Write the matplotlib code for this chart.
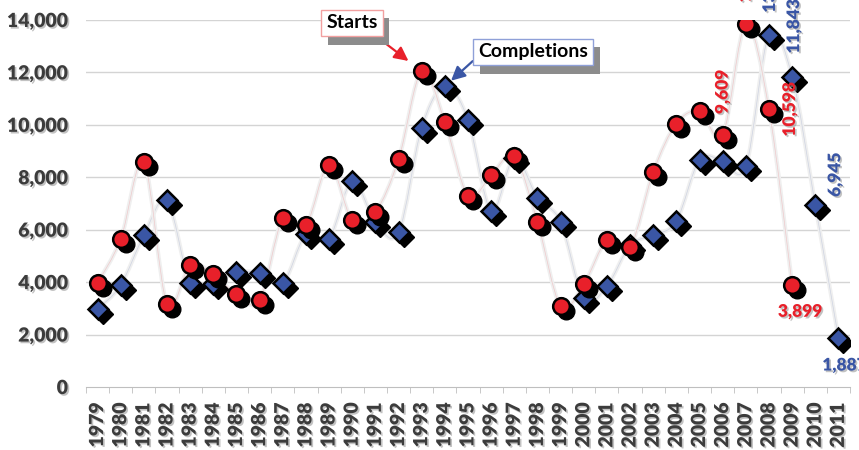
import numpy as np
import matplotlib as mpl
mpl.use('Agg')
import matplotlib.pyplot as plt
import matplotlib.patheffects as pe
import matplotlib.transforms as mtransforms
from matplotlib.path import Path
from matplotlib.patches import PathPatch

years = list(range(1979, 2012))

starts = [3970, 5640, 8570, 3160, 4650, 4300, 3540, 3310, 6430, 6170,
          8480, 6360, 6680, 8680, 12050, 10110, 7290, 8080, 8800, 6300,
          3090, 3920, 5600, 5330, 8200, 10050, 10520, 9609, 13830, 10598,
          3899]

completions = [2970, 3890, 5790, 7120, 3960, 3930, 4380, 4340, 3960, 5830,
               5660, 7860, 6300, 5900, 9890, 11470, 10200, 6720, 8750, 7220,
               6300, 3380, 3850, 5400, 5790, 6330, 8670, 8620, 8420, 13440,
               11843, 6945, 1887]

RED = '#e8202a'
BLUE = '#3a56a5'
GREY_TXT = '#3c3c3c'
FONT = 'Lato'

txt_shadow = [pe.SimplePatchShadow(offset=(1.2, -1.2), shadow_rgbFace='#9a9a9a', alpha=0.6),
              pe.Normal()]


def smooth_path(xs, ys):
    # cubic bezier through each point (catmull-rom style tangents)
    pts = np.column_stack([xs, ys]).astype(float)
    n = len(pts)
    verts = [pts[0]]
    codes = [Path.MOVETO]
    for i in range(n - 1):
        p0 = pts[max(i - 1, 0)]
        p1 = pts[i]
        p2 = pts[i + 1]
        p3 = pts[min(i + 2, n - 1)]
        verts += [p1 + (p2 - p0) / 6.0, p2 - (p3 - p1) / 6.0, p2]
        codes += [Path.CURVE4] * 3
    return Path(verts, codes)


fig = plt.figure(figsize=(8.59, 4.5), dpi=100)
ax = fig.add_axes([86 / 859, 63 / 450, 764 / 859, 367 / 450])

xs_c = np.arange(len(completions))
xs_s = np.arange(len(starts))

ax.set_xlim(-0.5, len(years) - 0.5)
ax.set_ylim(0, 14000)

# gridlines
for v in range(2000, 14001, 2000):
    ax.axhline(v, color='#d4d4d4', lw=1, zorder=0)

# faint smoothed connecting lines
for xs, ys, col in [(xs_c, completions, BLUE), (xs_s, starts, RED)]:
    p = smooth_path(xs, ys)
    ax.add_patch(PathPatch(p, fill=False, edgecolor='#efefef', lw=3, zorder=1))
    ax.add_patch(PathPatch(p, fill=False, edgecolor=col, lw=0.5, alpha=0.18, zorder=1))

shadow_tr = mtransforms.offset_copy(ax.transData, fig=fig, x=5, y=-5, units='dots')

ax.plot(xs_c, completions, 'D', ms=10, color='black', mec='black', transform=shadow_tr, zorder=3)
ax.plot(xs_c, completions, 'D', ms=10, color=BLUE, mec='black', mew=1.8, zorder=4)
ax.plot(xs_s, starts, 'o', ms=12, color='black', mec='black', transform=shadow_tr, zorder=5)
ax.plot(xs_s, starts, 'o', ms=12, color=RED, mec='black', mew=1.8, zorder=6)

# data labels
lab_kw = dict(textcoords='offset pixels', fontsize=12.5, fontweight='heavy',
              family=FONT, annotation_clip=False, zorder=8)


def lab(series, year, color, dx, dy, rot, ha, va):
    i = years.index(year)
    v = series[i]
    t = ax.annotate(f'{v:,}', (i, v), xytext=(dx, dy), color=color,
                    rotation=rot, ha=ha, va=va, **lab_kw)
    t.set_path_effects(txt_shadow)


lab(starts, 2006, RED, 0, 21, 90, 'center', 'bottom')
lab(starts, 2007, RED, 0, 22, 90, 'center', 'bottom')
lab(starts, 2008, RED, 21, 0, 90, 'center', 'center')
lab(starts, 2009, RED, 8, -27, 0, 'center', 'center')
lab(completions, 2008, BLUE, 1, 22, 90, 'center', 'bottom')
lab(completions, 2009, BLUE, 2, 23, 90, 'center', 'bottom')
lab(completions, 2010, BLUE, 20, 8, 90, 'center', 'bottom')
lab(completions, 2011, BLUE, 6, -28, 0, 'center', 'center')

# axes styling
for s in ['top', 'right', 'left']:
    ax.spines[s].set_visible(False)
ax.spines['bottom'].set_color('#bfbfbf')

ax.set_yticks(range(0, 14001, 2000))
ax.set_yticklabels([f'{v:,}' for v in range(0, 14001, 2000)])
ax.tick_params(axis='y', length=0, pad=13, labelsize=14, labelcolor=GREY_TXT)

ax.set_xticks(np.arange(len(years)))
ax.set_xticklabels([str(y) for y in years], rotation=90)
ax.set_xticks(np.arange(len(years) + 1) - 0.5, minor=True)
ax.tick_params(axis='x', which='major', length=0, pad=11, labelsize=14, labelcolor=GREY_TXT)
ax.tick_params(axis='x', which='minor', length=4, color='#bfbfbf', direction='out')

for t in ax.get_xticklabels() + ax.get_yticklabels():
    t.set_fontfamily(FONT)
    t.set_fontweight('heavy')
    t.set_path_effects(txt_shadow)

# callouts
box_shadow = [pe.SimplePatchShadow(offset=(5, -6), shadow_rgbFace='#8c8c8c', alpha=1.0), pe.Normal()]

i93 = years.index(1993)
a1 = ax.annotate('Starts', xy=(i93, starts[i93]), xytext=(352, 450 - 23),
                 textcoords='figure pixels', ha='center', va='center',
                 fontsize=14, fontweight='bold', family=FONT, color='black',
                 bbox=dict(boxstyle='square,pad=0.25', fc='white', ec='#f2a0a0', lw=1),
                 arrowprops=dict(arrowstyle='-|>,head_length=0.6,head_width=0.3', color=RED,
                                 lw=1.6, shrinkA=0, shrinkB=12, relpos=(0.85, 0)),
                 annotation_clip=False, zorder=10)
a1.get_bbox_patch().set_path_effects(box_shadow)

i94 = years.index(1994)
a2 = ax.annotate('Completions', xy=(i94, completions[i94]), xytext=(533, 450 - 52),
                 textcoords='figure pixels', ha='center', va='center',
                 fontsize=14, fontweight='bold', family=FONT, color='black',
                 bbox=dict(boxstyle='square,pad=0.25', fc='white', ec='#8fa0d8', lw=1),
                 arrowprops=dict(arrowstyle='-|>,head_length=0.6,head_width=0.3', color=BLUE,
                                 lw=1.6, shrinkA=0, shrinkB=6, relpos=(0, 0.25)),
                 annotation_clip=False, zorder=10)
a2.get_bbox_patch().set_path_effects(box_shadow)

plt.savefig('out.png', dpi=100)
plt.close()
